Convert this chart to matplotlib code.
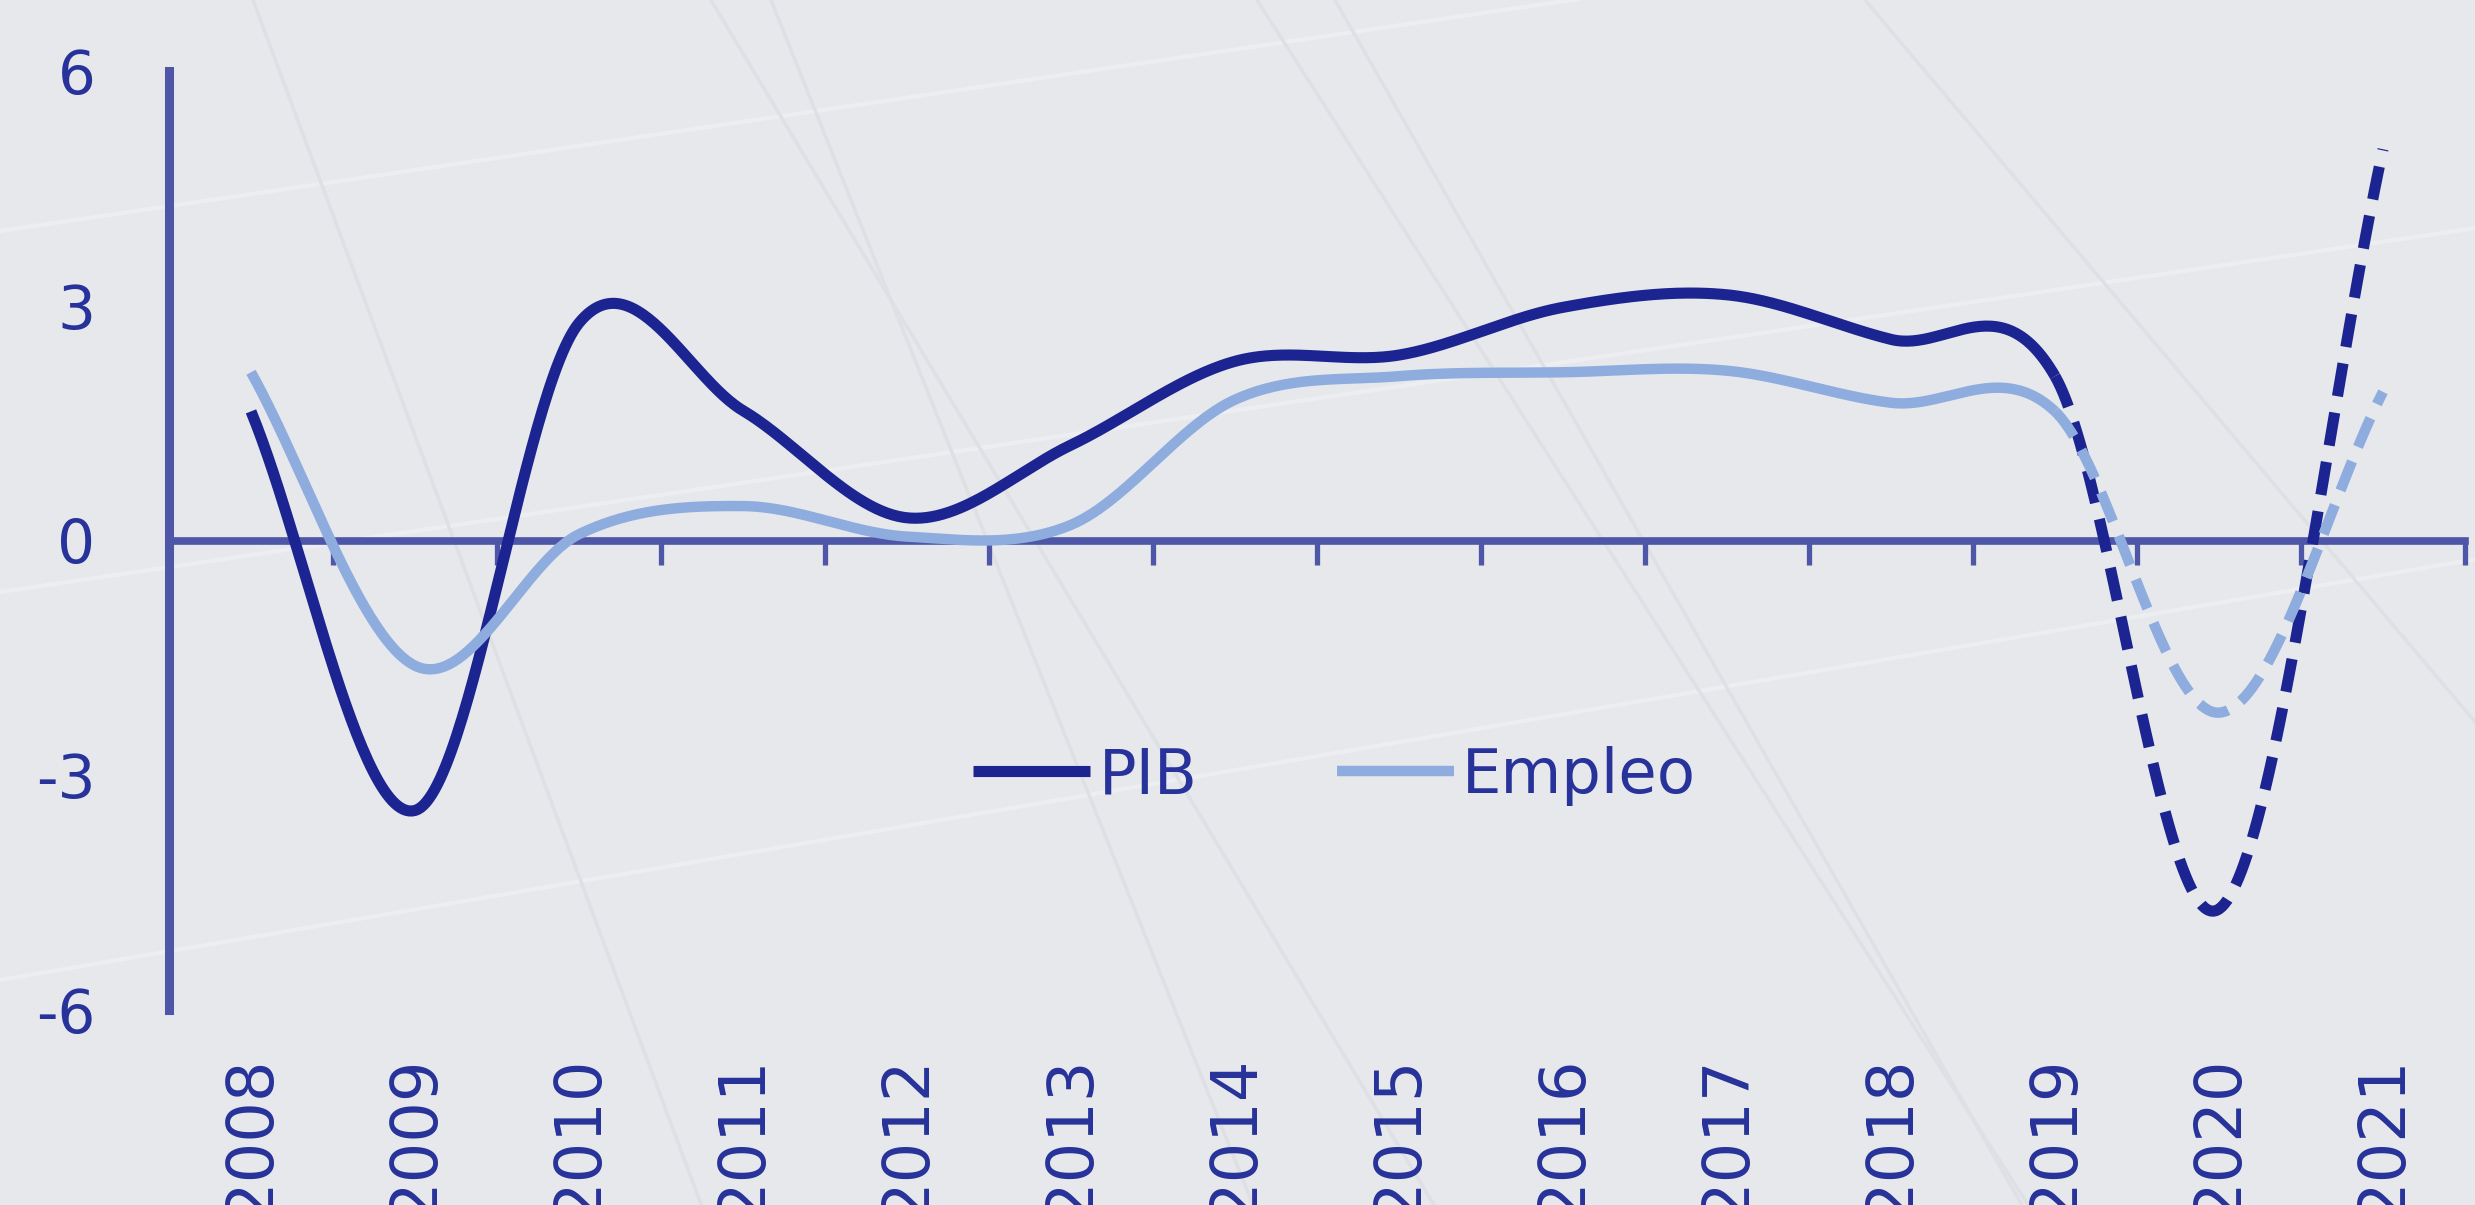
import numpy as np
import matplotlib.pyplot as plt

# datos (variacion anual, %)
years = [str(y) for y in range(2008, 2022)]
pib = [1.65, -3.45, 2.78, 1.66, 0.29, 1.22, 2.29, 2.37, 2.98, 3.14, 2.57, 2.1, -4.71, 5.0]
empleo = [2.15, -1.6, 0.08, 0.44, 0.05, 0.2, 1.8, 2.1, 2.15, 2.17, 1.76, 1.65, -2.2, 1.9]
last_real = 11  # 2019: desde aqui la linea es discontinua (prevision)

c_pib = '#1B2490'
c_emp = '#8EACDE'
c_axis = '#4D56A7'
c_text = '#27329A'
c_bg = '#E6E8EC'

plt.rcParams['axes.unicode_minus'] = False
plt.rcParams['font.family'] = ['DejaVu Sans']


def smooth(y, n=60):
    '''linea suavizada tipo Excel (Catmull-Rom)'''
    y = np.asarray(y, dtype=float)
    ye = np.concatenate([[2 * y[0] - y[1]], y, [2 * y[-1] - y[-2]]])
    m = (ye[2:] - ye[:-2]) / 2
    xs, ys = [], []
    for i in range(len(y) - 1):
        t = np.linspace(0, 1, n)
        h00 = 2 * t**3 - 3 * t**2 + 1
        h10 = t**3 - 2 * t**2 + t
        h01 = -2 * t**3 + 3 * t**2
        h11 = t**3 - t**2
        xs.append(i + t)
        ys.append(h00 * y[i] + h10 * m[i] + h01 * y[i + 1] + h11 * m[i + 1])
    return np.concatenate(xs), np.concatenate(ys)


fig = plt.figure(figsize=(24.75, 12.05), dpi=100)
fig.patch.set_facecolor(c_bg)

# fondo decorativo (lineas tenues)
bg = fig.add_axes([0, 0, 1, 1], zorder=0)
bg.set_xlim(0, 2475)
bg.set_ylim(1205, 0)
bg.axis('off')
for y0, slope in [(231, -0.147), (592, -0.147), (980, -0.17)]:
    bg.plot([0, 2475], [y0, y0 + slope * 2475], color='#EEF0F3', lw=3, alpha=0.8)
for x0, slope in [(253, 0.372), (711, 0.6), (771, 0.4), (1257, 0.64), (1865, 0.845), (1335, 0.57)]:
    bg.plot([x0, x0 + slope * 1205], [0, 1205], color='#DEE0E5', lw=2.5)

ax = fig.add_axes([169 / 2475, 195 / 1205, 2296 / 2475, 939 / 1205], zorder=1)
ax.set_facecolor('none')

x = np.arange(len(years))
for vals, col, lw, z, name in [(pib, c_pib, 8, 3, 'PIB'), (empleo, c_emp, 7.5, 4, 'Empleo')]:
    xs, ys = smooth(vals)
    sol = xs <= last_real
    das = xs >= last_real
    ax.plot(xs[sol], ys[sol], color=col, lw=lw, zorder=z, label=name,
            solid_capstyle='butt')
    ax.plot(xs[das], ys[das], color=col, lw=lw, zorder=z, linestyle=(0, (3, 1.5)),
            dash_capstyle='butt')

ax.set_xlim(-0.5, len(years) - 0.5)
ax.set_ylim(-6, 6)

ax.spines['top'].set_visible(False)
ax.spines['right'].set_visible(False)
ax.spines['left'].set_color(c_axis)
ax.spines['left'].set_linewidth(6.5)
ax.spines['bottom'].set_position(('data', 0))
ax.spines['bottom'].set_color(c_axis)
ax.spines['bottom'].set_linewidth(5.5)

ax.set_yticks([-6, -3, 0, 3, 6])
ax.set_yticklabels(['-6', '-3', '0', '3', '6'])
ax.tick_params(axis='y', length=0, pad=53, labelsize=43, labelcolor=c_text)

ax.set_xticks(np.arange(-0.5, len(years)), labels=[])
ax.set_xticks(x, labels=years, minor=True)
ax.tick_params(axis='x', which='major', direction='out', length=17, width=3.8, color=c_axis)
ax.tick_params(axis='x', which='minor', length=0, pad=371, labelsize=46,
               labelcolor=c_text, labelrotation=90)

ax.legend(loc='center', bbox_to_anchor=(0.5078, 0.2492), ncol=2, frameon=False,
          fontsize=45, labelcolor=c_text, handlelength=1.86, handletextpad=0.14,
          columnspacing=2.24)

fig.savefig('out.png', dpi=100, facecolor=c_bg)
